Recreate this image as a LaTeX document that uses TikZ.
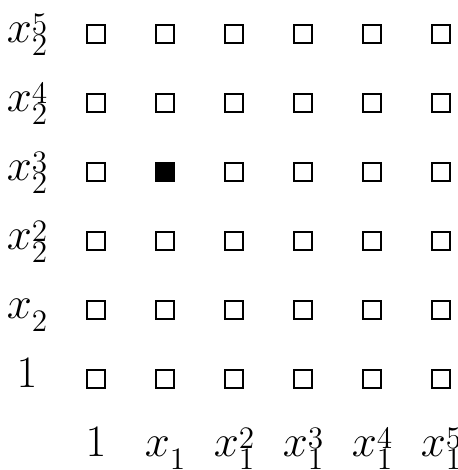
\documentclass[tikz,border=0pt]{standalone}
\usepackage{amsmath}
\usepackage{tikz}
\usetikzlibrary{positioning}
% x with exponent above and index below, set the way the grid labels are
\newcommand{\monom}[3]{$#1$\rlap{\raisebox{3.7pt}{$\scriptstyle #3$}}\raisebox{-5.7pt}{$\scriptstyle #2$}}

\begin{document}
\begin{tikzpicture}[x=1.117cm, y=1.117cm,
  mono/.style={draw=black, line width=0.6pt, minimum size=0.29cm, inner sep=0pt},
  lbl/.style={anchor=base, yshift=-0.145cm, inner sep=0pt, font=\huge}]
\useasboundingbox (-1.391,-1.319) rectangle (5.246,5.493);
% monomial grid, x_1 x_2^3 is the marked one
\foreach \i in {0,...,5}{
  \foreach \j in {0,...,5}{
    \def\fc{none}
    \ifnum\i=1 \ifnum\j=3 \def\fc{black}\fi\fi
    \node[mono, fill=\fc] (m-\i-\j) at (\i,\j) {};
  }
}
% powers of x_1 along the bottom
\node[lbl] (bx-0) at (0,-1) {$1$};
\foreach \i in {1,...,5}
  \node[lbl] (bx-\i) at (\i,-1) {\monom{x}{1}{\ifnum\i>1 \i\fi}};
% powers of x_2 on the left
\node[lbl] (ly-0) at (-1,0) {$1$};
\foreach \j in {1,...,5}
  \node[lbl] (ly-\j) at (-1,\j) {\monom{x}{2}{\ifnum\j>1 \j\fi}};
\end{tikzpicture}
\end{document}
